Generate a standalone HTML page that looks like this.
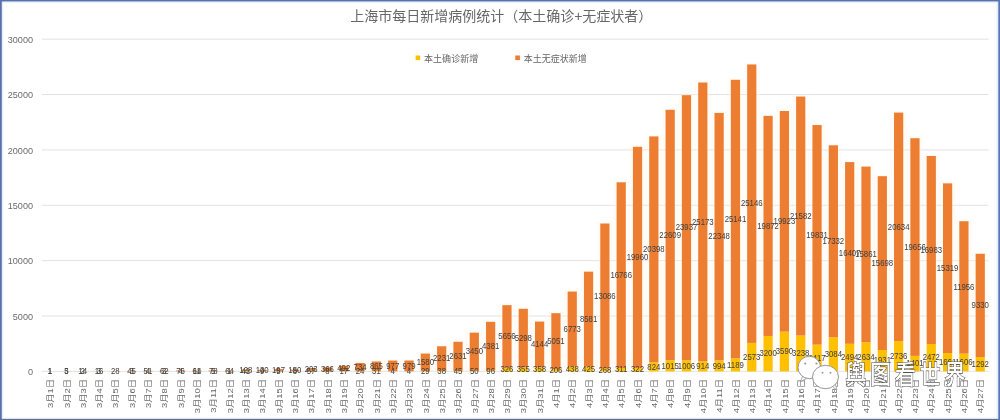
<!DOCTYPE html>
<html lang="zh"><head><meta charset="utf-8"><title>上海市每日新增病例统计</title>
<style>
html,body{margin:0;padding:0;background:#fff;}
body{width:1000px;height:420px;position:relative;overflow:hidden;font-family:"Liberation Sans","Noto Sans CJK SC",sans-serif;}
</style></head><body>
<svg width="1000" height="420" viewBox="0 0 1000 420" style="position:absolute;left:0;top:0;filter:blur(0.5px)">
<rect x="0" y="0" width="1000" height="420" fill="#ffffff"/>
<line x1="42" x2="988.6" y1="371.40" y2="371.40" stroke="#e2e2e2" stroke-width="1"/>
<text x="33" y="375.10" font-size="9.1" fill="#6b6b6b" text-anchor="end">0</text>
<line x1="42" x2="988.6" y1="316.03" y2="316.03" stroke="#e2e2e2" stroke-width="1"/>
<text x="33" y="319.73" font-size="9.1" fill="#6b6b6b" text-anchor="end">5000</text>
<line x1="42" x2="988.6" y1="260.66" y2="260.66" stroke="#e2e2e2" stroke-width="1"/>
<text x="33" y="264.36" font-size="9.1" fill="#6b6b6b" text-anchor="end">10000</text>
<line x1="42" x2="988.6" y1="205.29" y2="205.29" stroke="#e2e2e2" stroke-width="1"/>
<text x="33" y="208.99" font-size="9.1" fill="#6b6b6b" text-anchor="end">15000</text>
<line x1="42" x2="988.6" y1="149.92" y2="149.92" stroke="#e2e2e2" stroke-width="1"/>
<text x="33" y="153.62" font-size="9.1" fill="#6b6b6b" text-anchor="end">20000</text>
<line x1="42" x2="988.6" y1="94.55" y2="94.55" stroke="#e2e2e2" stroke-width="1"/>
<text x="33" y="98.25" font-size="9.1" fill="#6b6b6b" text-anchor="end">25000</text>
<line x1="42" x2="988.6" y1="39.18" y2="39.18" stroke="#e2e2e2" stroke-width="1"/>
<text x="33" y="42.88" font-size="9.1" fill="#6b6b6b" text-anchor="end">30000</text>
<rect x="351.92" y="361.51" width="16.32" height="9.89" fill="#fff4e2" fill-opacity="0.32"/>
<rect x="368.24" y="359.98" width="16.32" height="11.42" fill="#fff4e2" fill-opacity="0.32"/>
<rect x="384.56" y="359.04" width="16.32" height="12.36" fill="#fff4e2" fill-opacity="0.32"/>
<rect x="400.88" y="359.01" width="16.32" height="12.39" fill="#fff4e2" fill-opacity="0.32"/>
<rect x="417.20" y="352.08" width="16.32" height="19.32" fill="#fff4e2" fill-opacity="0.32"/>
<rect x="433.52" y="344.77" width="16.32" height="26.63" fill="#fff4e2" fill-opacity="0.32"/>
<rect x="449.84" y="340.27" width="16.32" height="31.13" fill="#fff4e2" fill-opacity="0.32"/>
<rect x="466.16" y="331.14" width="16.32" height="40.26" fill="#fff4e2" fill-opacity="0.32"/>
<rect x="482.48" y="320.32" width="16.32" height="51.08" fill="#fff4e2" fill-opacity="0.32"/>
<rect x="498.80" y="303.66" width="16.32" height="67.74" fill="#fff4e2" fill-opacity="0.32"/>
<rect x="515.12" y="307.30" width="16.32" height="64.10" fill="#fff4e2" fill-opacity="0.32"/>
<rect x="531.44" y="320.04" width="16.32" height="51.36" fill="#fff4e2" fill-opacity="0.32"/>
<rect x="547.76" y="311.68" width="16.32" height="59.72" fill="#fff4e2" fill-opacity="0.32"/>
<rect x="564.08" y="290.05" width="16.32" height="81.35" fill="#fff4e2" fill-opacity="0.32"/>
<rect x="580.40" y="270.17" width="16.32" height="101.23" fill="#fff4e2" fill-opacity="0.32"/>
<rect x="596.72" y="222.02" width="16.32" height="149.38" fill="#fff4e2" fill-opacity="0.32"/>
<rect x="613.04" y="180.79" width="16.32" height="190.61" fill="#fff4e2" fill-opacity="0.32"/>
<rect x="629.36" y="145.30" width="16.32" height="226.10" fill="#fff4e2" fill-opacity="0.32"/>
<rect x="645.68" y="134.89" width="16.32" height="236.51" fill="#fff4e2" fill-opacity="0.32"/>
<rect x="662.00" y="108.29" width="16.32" height="263.11" fill="#fff4e2" fill-opacity="0.32"/>
<rect x="678.32" y="93.68" width="16.32" height="277.72" fill="#fff4e2" fill-opacity="0.32"/>
<rect x="694.64" y="81.01" width="16.32" height="290.39" fill="#fff4e2" fill-opacity="0.32"/>
<rect x="710.96" y="111.41" width="16.32" height="259.99" fill="#fff4e2" fill-opacity="0.32"/>
<rect x="727.28" y="78.32" width="16.32" height="293.08" fill="#fff4e2" fill-opacity="0.32"/>
<rect x="743.60" y="62.94" width="16.32" height="308.46" fill="#fff4e2" fill-opacity="0.32"/>
<rect x="759.92" y="114.40" width="16.32" height="257.00" fill="#fff4e2" fill-opacity="0.32"/>
<rect x="776.24" y="109.52" width="16.32" height="261.88" fill="#fff4e2" fill-opacity="0.32"/>
<rect x="792.56" y="95.04" width="16.32" height="276.36" fill="#fff4e2" fill-opacity="0.32"/>
<rect x="808.88" y="123.53" width="16.32" height="247.87" fill="#fff4e2" fill-opacity="0.32"/>
<rect x="825.20" y="143.81" width="16.32" height="227.59" fill="#fff4e2" fill-opacity="0.32"/>
<rect x="841.52" y="160.59" width="16.32" height="210.81" fill="#fff4e2" fill-opacity="0.32"/>
<rect x="857.84" y="165.09" width="16.32" height="206.31" fill="#fff4e2" fill-opacity="0.32"/>
<rect x="874.16" y="174.68" width="16.32" height="196.72" fill="#fff4e2" fill-opacity="0.32"/>
<rect x="890.48" y="111.10" width="16.32" height="260.30" fill="#fff4e2" fill-opacity="0.32"/>
<rect x="906.80" y="136.71" width="16.32" height="234.69" fill="#fff4e2" fill-opacity="0.32"/>
<rect x="923.12" y="154.46" width="16.32" height="216.94" fill="#fff4e2" fill-opacity="0.32"/>
<rect x="939.44" y="181.86" width="16.32" height="189.54" fill="#fff4e2" fill-opacity="0.32"/>
<rect x="955.76" y="219.71" width="16.32" height="151.69" fill="#fff4e2" fill-opacity="0.32"/>
<rect x="972.08" y="252.27" width="16.32" height="119.13" fill="#fff4e2" fill-opacity="0.32"/>
<rect x="45.40" y="371.39" width="9.2" height="0.01" fill="#FFC000"/>
<rect x="45.40" y="371.38" width="9.2" height="0.01" fill="#ED7D31"/>
<rect x="61.72" y="371.37" width="9.2" height="0.03" fill="#FFC000"/>
<rect x="61.72" y="371.31" width="9.2" height="0.06" fill="#ED7D31"/>
<rect x="78.04" y="371.38" width="9.2" height="0.02" fill="#FFC000"/>
<rect x="78.04" y="371.22" width="9.2" height="0.16" fill="#ED7D31"/>
<rect x="94.36" y="371.37" width="9.2" height="0.03" fill="#FFC000"/>
<rect x="94.36" y="371.19" width="9.2" height="0.18" fill="#ED7D31"/>
<rect x="110.68" y="371.09" width="9.2" height="0.31" fill="#ED7D31"/>
<rect x="127.00" y="371.37" width="9.2" height="0.03" fill="#FFC000"/>
<rect x="127.00" y="370.87" width="9.2" height="0.50" fill="#ED7D31"/>
<rect x="143.32" y="371.36" width="9.2" height="0.04" fill="#FFC000"/>
<rect x="143.32" y="370.79" width="9.2" height="0.56" fill="#ED7D31"/>
<rect x="159.64" y="371.37" width="9.2" height="0.03" fill="#FFC000"/>
<rect x="159.64" y="370.68" width="9.2" height="0.69" fill="#ED7D31"/>
<rect x="175.96" y="371.36" width="9.2" height="0.04" fill="#FFC000"/>
<rect x="175.96" y="370.51" width="9.2" height="0.84" fill="#ED7D31"/>
<rect x="192.28" y="371.28" width="9.2" height="0.12" fill="#FFC000"/>
<rect x="192.28" y="370.57" width="9.2" height="0.71" fill="#ED7D31"/>
<rect x="208.60" y="371.34" width="9.2" height="0.06" fill="#FFC000"/>
<rect x="208.60" y="370.48" width="9.2" height="0.86" fill="#ED7D31"/>
<rect x="224.92" y="371.39" width="9.2" height="0.01" fill="#FFC000"/>
<rect x="224.92" y="370.68" width="9.2" height="0.71" fill="#ED7D31"/>
<rect x="241.24" y="370.95" width="9.2" height="0.45" fill="#FFC000"/>
<rect x="241.24" y="369.53" width="9.2" height="1.42" fill="#ED7D31"/>
<rect x="257.56" y="371.30" width="9.2" height="0.10" fill="#FFC000"/>
<rect x="257.56" y="369.86" width="9.2" height="1.44" fill="#ED7D31"/>
<rect x="273.88" y="371.34" width="9.2" height="0.06" fill="#FFC000"/>
<rect x="273.88" y="369.16" width="9.2" height="2.18" fill="#ED7D31"/>
<rect x="290.20" y="371.31" width="9.2" height="0.09" fill="#FFC000"/>
<rect x="290.20" y="369.65" width="9.2" height="1.66" fill="#ED7D31"/>
<rect x="306.52" y="370.77" width="9.2" height="0.63" fill="#FFC000"/>
<rect x="306.52" y="368.52" width="9.2" height="2.25" fill="#ED7D31"/>
<rect x="322.84" y="371.31" width="9.2" height="0.09" fill="#FFC000"/>
<rect x="322.84" y="367.26" width="9.2" height="4.05" fill="#ED7D31"/>
<rect x="339.16" y="371.21" width="9.2" height="0.19" fill="#FFC000"/>
<rect x="339.16" y="365.76" width="9.2" height="5.45" fill="#ED7D31"/>
<rect x="355.48" y="371.13" width="9.2" height="0.27" fill="#FFC000"/>
<rect x="355.48" y="363.01" width="9.2" height="8.13" fill="#ED7D31"/>
<rect x="371.80" y="371.06" width="9.2" height="0.34" fill="#FFC000"/>
<rect x="371.80" y="361.48" width="9.2" height="9.58" fill="#ED7D31"/>
<rect x="388.12" y="371.36" width="9.2" height="0.04" fill="#FFC000"/>
<rect x="388.12" y="360.54" width="9.2" height="10.82" fill="#ED7D31"/>
<rect x="404.44" y="371.36" width="9.2" height="0.04" fill="#FFC000"/>
<rect x="404.44" y="360.51" width="9.2" height="10.84" fill="#ED7D31"/>
<rect x="420.76" y="371.08" width="9.2" height="0.32" fill="#FFC000"/>
<rect x="420.76" y="353.58" width="9.2" height="17.50" fill="#ED7D31"/>
<rect x="437.08" y="370.98" width="9.2" height="0.42" fill="#FFC000"/>
<rect x="437.08" y="346.27" width="9.2" height="24.71" fill="#ED7D31"/>
<rect x="453.40" y="370.90" width="9.2" height="0.50" fill="#FFC000"/>
<rect x="453.40" y="341.77" width="9.2" height="29.14" fill="#ED7D31"/>
<rect x="469.72" y="370.85" width="9.2" height="0.55" fill="#FFC000"/>
<rect x="469.72" y="332.64" width="9.2" height="38.21" fill="#ED7D31"/>
<rect x="486.04" y="370.34" width="9.2" height="1.06" fill="#FFC000"/>
<rect x="486.04" y="321.82" width="9.2" height="48.52" fill="#ED7D31"/>
<rect x="502.36" y="367.79" width="9.2" height="3.61" fill="#FFC000"/>
<rect x="502.36" y="305.16" width="9.2" height="62.63" fill="#ED7D31"/>
<rect x="518.68" y="367.47" width="9.2" height="3.93" fill="#FFC000"/>
<rect x="518.68" y="308.80" width="9.2" height="58.67" fill="#ED7D31"/>
<rect x="535.00" y="367.44" width="9.2" height="3.96" fill="#FFC000"/>
<rect x="535.00" y="321.54" width="9.2" height="45.89" fill="#ED7D31"/>
<rect x="551.32" y="369.12" width="9.2" height="2.28" fill="#FFC000"/>
<rect x="551.32" y="313.18" width="9.2" height="55.93" fill="#ED7D31"/>
<rect x="567.64" y="366.55" width="9.2" height="4.85" fill="#FFC000"/>
<rect x="567.64" y="291.55" width="9.2" height="75.00" fill="#ED7D31"/>
<rect x="583.96" y="366.69" width="9.2" height="4.71" fill="#FFC000"/>
<rect x="583.96" y="271.67" width="9.2" height="95.03" fill="#ED7D31"/>
<rect x="600.28" y="368.43" width="9.2" height="2.97" fill="#FFC000"/>
<rect x="600.28" y="223.52" width="9.2" height="144.91" fill="#ED7D31"/>
<rect x="616.60" y="367.96" width="9.2" height="3.44" fill="#FFC000"/>
<rect x="616.60" y="182.29" width="9.2" height="185.67" fill="#ED7D31"/>
<rect x="632.92" y="367.83" width="9.2" height="3.57" fill="#FFC000"/>
<rect x="632.92" y="146.80" width="9.2" height="221.04" fill="#ED7D31"/>
<rect x="649.24" y="362.28" width="9.2" height="9.12" fill="#FFC000"/>
<rect x="649.24" y="136.39" width="9.2" height="225.89" fill="#ED7D31"/>
<rect x="665.56" y="360.16" width="9.2" height="11.24" fill="#FFC000"/>
<rect x="665.56" y="109.79" width="9.2" height="250.37" fill="#ED7D31"/>
<rect x="681.88" y="360.26" width="9.2" height="11.14" fill="#FFC000"/>
<rect x="681.88" y="95.18" width="9.2" height="265.08" fill="#ED7D31"/>
<rect x="698.20" y="361.28" width="9.2" height="10.12" fill="#FFC000"/>
<rect x="698.20" y="82.51" width="9.2" height="278.77" fill="#ED7D31"/>
<rect x="714.52" y="360.39" width="9.2" height="11.01" fill="#FFC000"/>
<rect x="714.52" y="112.91" width="9.2" height="247.48" fill="#ED7D31"/>
<rect x="730.84" y="358.23" width="9.2" height="13.17" fill="#FFC000"/>
<rect x="730.84" y="79.82" width="9.2" height="278.41" fill="#ED7D31"/>
<rect x="747.16" y="342.91" width="9.2" height="28.49" fill="#FFC000"/>
<rect x="747.16" y="64.44" width="9.2" height="278.47" fill="#ED7D31"/>
<rect x="763.48" y="335.96" width="9.2" height="35.44" fill="#FFC000"/>
<rect x="763.48" y="115.90" width="9.2" height="220.06" fill="#ED7D31"/>
<rect x="779.80" y="331.64" width="9.2" height="39.76" fill="#FFC000"/>
<rect x="779.80" y="111.02" width="9.2" height="220.63" fill="#ED7D31"/>
<rect x="796.12" y="335.54" width="9.2" height="35.86" fill="#FFC000"/>
<rect x="796.12" y="96.54" width="9.2" height="239.00" fill="#ED7D31"/>
<rect x="812.44" y="344.63" width="9.2" height="26.77" fill="#FFC000"/>
<rect x="812.44" y="125.03" width="9.2" height="219.61" fill="#ED7D31"/>
<rect x="828.76" y="337.25" width="9.2" height="34.15" fill="#FFC000"/>
<rect x="828.76" y="145.31" width="9.2" height="191.93" fill="#ED7D31"/>
<rect x="845.08" y="343.78" width="9.2" height="27.62" fill="#FFC000"/>
<rect x="845.08" y="162.09" width="9.2" height="181.69" fill="#ED7D31"/>
<rect x="861.40" y="342.23" width="9.2" height="29.17" fill="#FFC000"/>
<rect x="861.40" y="166.59" width="9.2" height="175.64" fill="#ED7D31"/>
<rect x="877.72" y="350.02" width="9.2" height="21.38" fill="#FFC000"/>
<rect x="877.72" y="176.18" width="9.2" height="173.84" fill="#ED7D31"/>
<rect x="894.04" y="341.10" width="9.2" height="30.30" fill="#FFC000"/>
<rect x="894.04" y="112.60" width="9.2" height="228.50" fill="#ED7D31"/>
<rect x="910.36" y="355.89" width="9.2" height="15.51" fill="#FFC000"/>
<rect x="910.36" y="138.21" width="9.2" height="217.67" fill="#ED7D31"/>
<rect x="926.68" y="344.03" width="9.2" height="27.37" fill="#FFC000"/>
<rect x="926.68" y="155.96" width="9.2" height="188.07" fill="#ED7D31"/>
<rect x="943.00" y="353.01" width="9.2" height="18.39" fill="#FFC000"/>
<rect x="943.00" y="183.36" width="9.2" height="169.64" fill="#ED7D31"/>
<rect x="959.32" y="353.62" width="9.2" height="17.78" fill="#FFC000"/>
<rect x="959.32" y="221.21" width="9.2" height="132.40" fill="#ED7D31"/>
<rect x="975.64" y="357.09" width="9.2" height="14.31" fill="#FFC000"/>
<rect x="975.64" y="253.77" width="9.2" height="103.32" fill="#ED7D31"/>
<text transform="translate(50.00,374.14) scale(0.885,1)" font-size="8.8" fill="#404040" text-anchor="middle">1</text>
<text transform="translate(50.00,374.13) scale(0.885,1)" font-size="8.8" fill="#404040" text-anchor="middle">1</text>
<text transform="translate(53.20,378.7) rotate(-90) scale(1,0.785)" font-size="9.45" fill="#666" text-anchor="end">3月1日</text>
<text transform="translate(66.32,374.13) scale(0.885,1)" font-size="8.8" fill="#404040" text-anchor="middle">3</text>
<text transform="translate(66.32,374.09) scale(0.885,1)" font-size="8.8" fill="#404040" text-anchor="middle">5</text>
<text transform="translate(69.52,378.7) rotate(-90) scale(1,0.785)" font-size="9.45" fill="#666" text-anchor="end">3月2日</text>
<text transform="translate(82.64,374.14) scale(0.885,1)" font-size="8.8" fill="#404040" text-anchor="middle">2</text>
<text transform="translate(82.64,374.05) scale(0.885,1)" font-size="8.8" fill="#404040" text-anchor="middle">14</text>
<text transform="translate(85.84,378.7) rotate(-90) scale(1,0.785)" font-size="9.45" fill="#666" text-anchor="end">3月3日</text>
<text transform="translate(98.96,374.13) scale(0.885,1)" font-size="8.8" fill="#404040" text-anchor="middle">3</text>
<text transform="translate(98.96,374.03) scale(0.885,1)" font-size="8.8" fill="#404040" text-anchor="middle">16</text>
<text transform="translate(102.16,378.7) rotate(-90) scale(1,0.785)" font-size="9.45" fill="#666" text-anchor="end">3月4日</text>
<text transform="translate(115.28,373.99) scale(0.885,1)" font-size="8.8" fill="#404040" text-anchor="middle">28</text>
<text transform="translate(118.48,378.7) rotate(-90) scale(1,0.785)" font-size="9.45" fill="#666" text-anchor="end">3月5日</text>
<text transform="translate(131.60,374.13) scale(0.885,1)" font-size="8.8" fill="#404040" text-anchor="middle">3</text>
<text transform="translate(131.60,373.87) scale(0.885,1)" font-size="8.8" fill="#404040" text-anchor="middle">45</text>
<text transform="translate(134.80,378.7) rotate(-90) scale(1,0.785)" font-size="9.45" fill="#666" text-anchor="end">3月6日</text>
<text transform="translate(147.92,374.13) scale(0.885,1)" font-size="8.8" fill="#404040" text-anchor="middle">4</text>
<text transform="translate(147.92,373.82) scale(0.885,1)" font-size="8.8" fill="#404040" text-anchor="middle">51</text>
<text transform="translate(151.12,378.7) rotate(-90) scale(1,0.785)" font-size="9.45" fill="#666" text-anchor="end">3月7日</text>
<text transform="translate(164.24,374.13) scale(0.885,1)" font-size="8.8" fill="#404040" text-anchor="middle">3</text>
<text transform="translate(164.24,373.77) scale(0.885,1)" font-size="8.8" fill="#404040" text-anchor="middle">62</text>
<text transform="translate(167.44,378.7) rotate(-90) scale(1,0.785)" font-size="9.45" fill="#666" text-anchor="end">3月8日</text>
<text transform="translate(180.56,374.13) scale(0.885,1)" font-size="8.8" fill="#404040" text-anchor="middle">4</text>
<text transform="translate(180.56,373.68) scale(0.885,1)" font-size="8.8" fill="#404040" text-anchor="middle">76</text>
<text transform="translate(183.76,378.7) rotate(-90) scale(1,0.785)" font-size="9.45" fill="#666" text-anchor="end">3月9日</text>
<text transform="translate(196.88,374.09) scale(0.885,1)" font-size="8.8" fill="#404040" text-anchor="middle">11</text>
<text transform="translate(196.88,373.67) scale(0.885,1)" font-size="8.8" fill="#404040" text-anchor="middle">64</text>
<text transform="translate(200.08,378.7) rotate(-90) scale(1,0.785)" font-size="9.45" fill="#666" text-anchor="end">3月10日</text>
<text transform="translate(213.20,374.12) scale(0.885,1)" font-size="8.8" fill="#404040" text-anchor="middle">5</text>
<text transform="translate(213.20,373.66) scale(0.885,1)" font-size="8.8" fill="#404040" text-anchor="middle">78</text>
<text transform="translate(216.40,378.7) rotate(-90) scale(1,0.785)" font-size="9.45" fill="#666" text-anchor="end">3月11日</text>
<text transform="translate(229.52,374.14) scale(0.885,1)" font-size="8.8" fill="#404040" text-anchor="middle">1</text>
<text transform="translate(229.52,373.78) scale(0.885,1)" font-size="8.8" fill="#404040" text-anchor="middle">64</text>
<text transform="translate(232.72,378.7) rotate(-90) scale(1,0.785)" font-size="9.45" fill="#666" text-anchor="end">3月12日</text>
<text transform="translate(245.84,373.92) scale(0.885,1)" font-size="8.8" fill="#404040" text-anchor="middle">41</text>
<text transform="translate(245.84,372.99) scale(0.885,1)" font-size="8.8" fill="#404040" text-anchor="middle">128</text>
<text transform="translate(249.04,378.7) rotate(-90) scale(1,0.785)" font-size="9.45" fill="#666" text-anchor="end">3月13日</text>
<text transform="translate(262.16,374.10) scale(0.885,1)" font-size="8.8" fill="#404040" text-anchor="middle">9</text>
<text transform="translate(262.16,373.33) scale(0.885,1)" font-size="8.8" fill="#404040" text-anchor="middle">130</text>
<text transform="translate(265.36,378.7) rotate(-90) scale(1,0.785)" font-size="9.45" fill="#666" text-anchor="end">3月14日</text>
<text transform="translate(278.48,374.12) scale(0.885,1)" font-size="8.8" fill="#404040" text-anchor="middle">5</text>
<text transform="translate(278.48,373.00) scale(0.885,1)" font-size="8.8" fill="#404040" text-anchor="middle">197</text>
<text transform="translate(281.68,378.7) rotate(-90) scale(1,0.785)" font-size="9.45" fill="#666" text-anchor="end">3月15日</text>
<text transform="translate(294.80,374.11) scale(0.885,1)" font-size="8.8" fill="#404040" text-anchor="middle">8</text>
<text transform="translate(294.80,373.23) scale(0.885,1)" font-size="8.8" fill="#404040" text-anchor="middle">150</text>
<text transform="translate(298.00,378.7) rotate(-90) scale(1,0.785)" font-size="9.45" fill="#666" text-anchor="end">3月16日</text>
<text transform="translate(311.12,373.83) scale(0.885,1)" font-size="8.8" fill="#404040" text-anchor="middle">57</text>
<text transform="translate(311.12,372.39) scale(0.885,1)" font-size="8.8" fill="#404040" text-anchor="middle">203</text>
<text transform="translate(314.32,378.7) rotate(-90) scale(1,0.785)" font-size="9.45" fill="#666" text-anchor="end">3月17日</text>
<text transform="translate(327.44,374.11) scale(0.885,1)" font-size="8.8" fill="#404040" text-anchor="middle">8</text>
<text transform="translate(327.44,372.03) scale(0.885,1)" font-size="8.8" fill="#404040" text-anchor="middle">366</text>
<text transform="translate(330.64,378.7) rotate(-90) scale(1,0.785)" font-size="9.45" fill="#666" text-anchor="end">3月18日</text>
<text transform="translate(343.76,374.06) scale(0.885,1)" font-size="8.8" fill="#404040" text-anchor="middle">17</text>
<text transform="translate(343.76,371.24) scale(0.885,1)" font-size="8.8" fill="#404040" text-anchor="middle">492</text>
<text transform="translate(346.96,378.7) rotate(-90) scale(1,0.785)" font-size="9.45" fill="#666" text-anchor="end">3月19日</text>
<text transform="translate(360.08,374.02) scale(0.885,1)" font-size="8.8" fill="#404040" text-anchor="middle">24</text>
<text transform="translate(360.08,369.82) scale(0.885,1)" font-size="8.8" fill="#404040" text-anchor="middle">734</text>
<text transform="translate(363.28,378.7) rotate(-90) scale(1,0.785)" font-size="9.45" fill="#666" text-anchor="end">3月20日</text>
<text transform="translate(376.40,373.98) scale(0.885,1)" font-size="8.8" fill="#404040" text-anchor="middle">31</text>
<text transform="translate(376.40,369.02) scale(0.885,1)" font-size="8.8" fill="#404040" text-anchor="middle">865</text>
<text transform="translate(379.60,378.7) rotate(-90) scale(1,0.785)" font-size="9.45" fill="#666" text-anchor="end">3月21日</text>
<text transform="translate(392.72,374.13) scale(0.885,1)" font-size="8.8" fill="#404040" text-anchor="middle">4</text>
<text transform="translate(392.72,368.70) scale(0.885,1)" font-size="8.8" fill="#404040" text-anchor="middle">977</text>
<text transform="translate(395.92,378.7) rotate(-90) scale(1,0.785)" font-size="9.45" fill="#666" text-anchor="end">3月22日</text>
<text transform="translate(409.04,374.13) scale(0.885,1)" font-size="8.8" fill="#404040" text-anchor="middle">4</text>
<text transform="translate(409.04,368.68) scale(0.885,1)" font-size="8.8" fill="#404040" text-anchor="middle">979</text>
<text transform="translate(412.24,378.7) rotate(-90) scale(1,0.785)" font-size="9.45" fill="#666" text-anchor="end">3月23日</text>
<text transform="translate(425.36,373.99) scale(0.885,1)" font-size="8.8" fill="#404040" text-anchor="middle">29</text>
<text transform="translate(425.36,365.08) scale(0.885,1)" font-size="8.8" fill="#404040" text-anchor="middle">1580</text>
<text transform="translate(428.56,378.7) rotate(-90) scale(1,0.785)" font-size="9.45" fill="#666" text-anchor="end">3月24日</text>
<text transform="translate(441.68,373.94) scale(0.885,1)" font-size="8.8" fill="#404040" text-anchor="middle">38</text>
<text transform="translate(441.68,361.38) scale(0.885,1)" font-size="8.8" fill="#404040" text-anchor="middle">2231</text>
<text transform="translate(444.88,378.7) rotate(-90) scale(1,0.785)" font-size="9.45" fill="#666" text-anchor="end">3月25日</text>
<text transform="translate(458.00,373.90) scale(0.885,1)" font-size="8.8" fill="#404040" text-anchor="middle">45</text>
<text transform="translate(458.00,359.08) scale(0.885,1)" font-size="8.8" fill="#404040" text-anchor="middle">2631</text>
<text transform="translate(461.20,378.7) rotate(-90) scale(1,0.785)" font-size="9.45" fill="#666" text-anchor="end">3月26日</text>
<text transform="translate(474.32,373.87) scale(0.885,1)" font-size="8.8" fill="#404040" text-anchor="middle">50</text>
<text transform="translate(474.32,354.49) scale(0.885,1)" font-size="8.8" fill="#404040" text-anchor="middle">3450</text>
<text transform="translate(477.52,378.7) rotate(-90) scale(1,0.785)" font-size="9.45" fill="#666" text-anchor="end">3月27日</text>
<text transform="translate(490.64,373.62) scale(0.885,1)" font-size="8.8" fill="#404040" text-anchor="middle">96</text>
<text transform="translate(490.64,348.83) scale(0.885,1)" font-size="8.8" fill="#404040" text-anchor="middle">4381</text>
<text transform="translate(493.84,378.7) rotate(-90) scale(1,0.785)" font-size="9.45" fill="#666" text-anchor="end">3月28日</text>
<text transform="translate(506.96,372.34) scale(0.885,1)" font-size="8.8" fill="#404040" text-anchor="middle">326</text>
<text transform="translate(506.96,339.22) scale(0.885,1)" font-size="8.8" fill="#404040" text-anchor="middle">5656</text>
<text transform="translate(510.16,378.7) rotate(-90) scale(1,0.785)" font-size="9.45" fill="#666" text-anchor="end">3月29日</text>
<text transform="translate(523.28,372.18) scale(0.885,1)" font-size="8.8" fill="#404040" text-anchor="middle">355</text>
<text transform="translate(523.28,340.88) scale(0.885,1)" font-size="8.8" fill="#404040" text-anchor="middle">5298</text>
<text transform="translate(526.48,378.7) rotate(-90) scale(1,0.785)" font-size="9.45" fill="#666" text-anchor="end">3月30日</text>
<text transform="translate(539.60,372.17) scale(0.885,1)" font-size="8.8" fill="#404040" text-anchor="middle">358</text>
<text transform="translate(539.60,347.24) scale(0.885,1)" font-size="8.8" fill="#404040" text-anchor="middle">4144</text>
<text transform="translate(542.80,378.7) rotate(-90) scale(1,0.785)" font-size="9.45" fill="#666" text-anchor="end">3月31日</text>
<text transform="translate(555.92,373.01) scale(0.885,1)" font-size="8.8" fill="#404040" text-anchor="middle">206</text>
<text transform="translate(555.92,343.90) scale(0.885,1)" font-size="8.8" fill="#404040" text-anchor="middle">5051</text>
<text transform="translate(559.12,378.7) rotate(-90) scale(1,0.785)" font-size="9.45" fill="#666" text-anchor="end">4月1日</text>
<text transform="translate(572.24,371.72) scale(0.885,1)" font-size="8.8" fill="#404040" text-anchor="middle">438</text>
<text transform="translate(572.24,331.80) scale(0.885,1)" font-size="8.8" fill="#404040" text-anchor="middle">6773</text>
<text transform="translate(575.44,378.7) rotate(-90) scale(1,0.785)" font-size="9.45" fill="#666" text-anchor="end">4月2日</text>
<text transform="translate(588.56,371.80) scale(0.885,1)" font-size="8.8" fill="#404040" text-anchor="middle">425</text>
<text transform="translate(588.56,321.93) scale(0.885,1)" font-size="8.8" fill="#404040" text-anchor="middle">8581</text>
<text transform="translate(591.76,378.7) rotate(-90) scale(1,0.785)" font-size="9.45" fill="#666" text-anchor="end">4月3日</text>
<text transform="translate(604.88,372.67) scale(0.885,1)" font-size="8.8" fill="#404040" text-anchor="middle">268</text>
<text transform="translate(604.88,298.72) scale(0.885,1)" font-size="8.8" fill="#404040" text-anchor="middle">13086</text>
<text transform="translate(608.08,378.7) rotate(-90) scale(1,0.785)" font-size="9.45" fill="#666" text-anchor="end">4月4日</text>
<text transform="translate(621.20,372.43) scale(0.885,1)" font-size="8.8" fill="#404040" text-anchor="middle">311</text>
<text transform="translate(621.20,277.87) scale(0.885,1)" font-size="8.8" fill="#404040" text-anchor="middle">16766</text>
<text transform="translate(624.40,378.7) rotate(-90) scale(1,0.785)" font-size="9.45" fill="#666" text-anchor="end">4月5日</text>
<text transform="translate(637.52,372.37) scale(0.885,1)" font-size="8.8" fill="#404040" text-anchor="middle">322</text>
<text transform="translate(637.52,260.07) scale(0.885,1)" font-size="8.8" fill="#404040" text-anchor="middle">19960</text>
<text transform="translate(640.72,378.7) rotate(-90) scale(1,0.785)" font-size="9.45" fill="#666" text-anchor="end">4月6日</text>
<text transform="translate(653.84,369.59) scale(0.885,1)" font-size="8.8" fill="#404040" text-anchor="middle">824</text>
<text transform="translate(653.84,252.08) scale(0.885,1)" font-size="8.8" fill="#404040" text-anchor="middle">20398</text>
<text transform="translate(657.04,378.7) rotate(-90) scale(1,0.785)" font-size="9.45" fill="#666" text-anchor="end">4月7日</text>
<text transform="translate(670.16,368.53) scale(0.885,1)" font-size="8.8" fill="#404040" text-anchor="middle">1015</text>
<text transform="translate(670.16,237.72) scale(0.885,1)" font-size="8.8" fill="#404040" text-anchor="middle">22609</text>
<text transform="translate(673.36,378.7) rotate(-90) scale(1,0.785)" font-size="9.45" fill="#666" text-anchor="end">4月8日</text>
<text transform="translate(686.48,368.58) scale(0.885,1)" font-size="8.8" fill="#404040" text-anchor="middle">1006</text>
<text transform="translate(686.48,230.47) scale(0.885,1)" font-size="8.8" fill="#404040" text-anchor="middle">23937</text>
<text transform="translate(689.68,378.7) rotate(-90) scale(1,0.785)" font-size="9.45" fill="#666" text-anchor="end">4月9日</text>
<text transform="translate(702.80,369.09) scale(0.885,1)" font-size="8.8" fill="#404040" text-anchor="middle">914</text>
<text transform="translate(702.80,224.65) scale(0.885,1)" font-size="8.8" fill="#404040" text-anchor="middle">25173</text>
<text transform="translate(706.00,378.7) rotate(-90) scale(1,0.785)" font-size="9.45" fill="#666" text-anchor="end">4月10日</text>
<text transform="translate(719.12,368.65) scale(0.885,1)" font-size="8.8" fill="#404040" text-anchor="middle">994</text>
<text transform="translate(719.12,239.40) scale(0.885,1)" font-size="8.8" fill="#404040" text-anchor="middle">22348</text>
<text transform="translate(722.32,378.7) rotate(-90) scale(1,0.785)" font-size="9.45" fill="#666" text-anchor="end">4月11日</text>
<text transform="translate(735.44,367.57) scale(0.885,1)" font-size="8.8" fill="#404040" text-anchor="middle">1189</text>
<text transform="translate(735.44,221.78) scale(0.885,1)" font-size="8.8" fill="#404040" text-anchor="middle">25141</text>
<text transform="translate(738.64,378.7) rotate(-90) scale(1,0.785)" font-size="9.45" fill="#666" text-anchor="end">4月12日</text>
<text transform="translate(751.76,359.90) scale(0.885,1)" font-size="8.8" fill="#404040" text-anchor="middle">2573</text>
<text transform="translate(751.76,206.42) scale(0.885,1)" font-size="8.8" fill="#404040" text-anchor="middle">25146</text>
<text transform="translate(754.96,378.7) rotate(-90) scale(1,0.785)" font-size="9.45" fill="#666" text-anchor="end">4月13日</text>
<text transform="translate(768.08,356.43) scale(0.885,1)" font-size="8.8" fill="#404040" text-anchor="middle">3200</text>
<text transform="translate(768.08,228.68) scale(0.885,1)" font-size="8.8" fill="#404040" text-anchor="middle">19872</text>
<text transform="translate(771.28,378.7) rotate(-90) scale(1,0.785)" font-size="9.45" fill="#666" text-anchor="end">4月14日</text>
<text transform="translate(784.40,354.27) scale(0.885,1)" font-size="8.8" fill="#404040" text-anchor="middle">3590</text>
<text transform="translate(784.40,224.08) scale(0.885,1)" font-size="8.8" fill="#404040" text-anchor="middle">19923</text>
<text transform="translate(787.60,378.7) rotate(-90) scale(1,0.785)" font-size="9.45" fill="#666" text-anchor="end">4月15日</text>
<text transform="translate(800.72,356.22) scale(0.885,1)" font-size="8.8" fill="#404040" text-anchor="middle">3238</text>
<text transform="translate(800.72,218.79) scale(0.885,1)" font-size="8.8" fill="#404040" text-anchor="middle">21582</text>
<text transform="translate(803.92,378.7) rotate(-90) scale(1,0.785)" font-size="9.45" fill="#666" text-anchor="end">4月16日</text>
<text transform="translate(817.04,360.77) scale(0.885,1)" font-size="8.8" fill="#404040" text-anchor="middle">2417</text>
<text transform="translate(817.04,237.58) scale(0.885,1)" font-size="8.8" fill="#404040" text-anchor="middle">19831</text>
<text transform="translate(820.24,378.7) rotate(-90) scale(1,0.785)" font-size="9.45" fill="#666" text-anchor="end">4月17日</text>
<text transform="translate(833.36,357.07) scale(0.885,1)" font-size="8.8" fill="#404040" text-anchor="middle">3084</text>
<text transform="translate(833.36,244.03) scale(0.885,1)" font-size="8.8" fill="#404040" text-anchor="middle">17332</text>
<text transform="translate(836.56,378.7) rotate(-90) scale(1,0.785)" font-size="9.45" fill="#666" text-anchor="end">4月18日</text>
<text transform="translate(849.68,360.34) scale(0.885,1)" font-size="8.8" fill="#404040" text-anchor="middle">2494</text>
<text transform="translate(849.68,255.69) scale(0.885,1)" font-size="8.8" fill="#404040" text-anchor="middle">16407</text>
<text transform="translate(852.88,378.7) rotate(-90) scale(1,0.785)" font-size="9.45" fill="#666" text-anchor="end">4月19日</text>
<text transform="translate(866.00,359.57) scale(0.885,1)" font-size="8.8" fill="#404040" text-anchor="middle">2634</text>
<text transform="translate(866.00,257.16) scale(0.885,1)" font-size="8.8" fill="#404040" text-anchor="middle">15861</text>
<text transform="translate(869.20,378.7) rotate(-90) scale(1,0.785)" font-size="9.45" fill="#666" text-anchor="end">4月20日</text>
<text transform="translate(882.32,363.46) scale(0.885,1)" font-size="8.8" fill="#404040" text-anchor="middle">1931</text>
<text transform="translate(882.32,265.85) scale(0.885,1)" font-size="8.8" fill="#404040" text-anchor="middle">15698</text>
<text transform="translate(885.52,378.7) rotate(-90) scale(1,0.785)" font-size="9.45" fill="#666" text-anchor="end">4月21日</text>
<text transform="translate(898.64,359.00) scale(0.885,1)" font-size="8.8" fill="#404040" text-anchor="middle">2736</text>
<text transform="translate(898.64,229.60) scale(0.885,1)" font-size="8.8" fill="#404040" text-anchor="middle">20634</text>
<text transform="translate(901.84,378.7) rotate(-90) scale(1,0.785)" font-size="9.45" fill="#666" text-anchor="end">4月22日</text>
<text transform="translate(914.96,366.39) scale(0.885,1)" font-size="8.8" fill="#404040" text-anchor="middle">1401</text>
<text transform="translate(914.96,249.80) scale(0.885,1)" font-size="8.8" fill="#404040" text-anchor="middle">19656</text>
<text transform="translate(918.16,378.7) rotate(-90) scale(1,0.785)" font-size="9.45" fill="#666" text-anchor="end">4月23日</text>
<text transform="translate(931.28,360.46) scale(0.885,1)" font-size="8.8" fill="#404040" text-anchor="middle">2472</text>
<text transform="translate(931.28,252.74) scale(0.885,1)" font-size="8.8" fill="#404040" text-anchor="middle">16983</text>
<text transform="translate(934.48,378.7) rotate(-90) scale(1,0.785)" font-size="9.45" fill="#666" text-anchor="end">4月24日</text>
<text transform="translate(947.60,364.95) scale(0.885,1)" font-size="8.8" fill="#404040" text-anchor="middle">1661</text>
<text transform="translate(947.60,270.93) scale(0.885,1)" font-size="8.8" fill="#404040" text-anchor="middle">15319</text>
<text transform="translate(950.80,378.7) rotate(-90) scale(1,0.785)" font-size="9.45" fill="#666" text-anchor="end">4月25日</text>
<text transform="translate(963.92,365.26) scale(0.885,1)" font-size="8.8" fill="#404040" text-anchor="middle">1606</text>
<text transform="translate(963.92,290.16) scale(0.885,1)" font-size="8.8" fill="#404040" text-anchor="middle">11956</text>
<text transform="translate(967.12,378.7) rotate(-90) scale(1,0.785)" font-size="9.45" fill="#666" text-anchor="end">4月26日</text>
<text transform="translate(980.24,367.00) scale(0.885,1)" font-size="8.8" fill="#404040" text-anchor="middle">1292</text>
<text transform="translate(980.24,308.18) scale(0.885,1)" font-size="8.8" fill="#404040" text-anchor="middle">9330</text>
<text transform="translate(983.44,378.7) rotate(-90) scale(1,0.785)" font-size="9.45" fill="#666" text-anchor="end">4月27日</text>
<text x="350.2" y="21.4" font-size="14" fill="#676767">上海市每日新增病例统计（本土确诊+无症状者）</text>
<rect x="415.6" y="55.5" width="4.6" height="4.6" fill="#FFC000"/>
<text x="424" y="61.8" font-size="9.05" fill="#666">本土确诊新增</text>
<rect x="515.3" y="55.5" width="4.6" height="4.6" fill="#ED7D31"/>
<text x="523.8" y="61.8" font-size="9.0" fill="#666">本土无症状新增</text>
<g id="wm">
<g fill="#ffffff" stroke="#8a8a8a" stroke-width="0.9"><ellipse cx="809.3" cy="367.5" rx="11.3" ry="11.2"/><ellipse cx="825.5" cy="377" rx="13" ry="11.7"/></g>
<path d="M802.5 376.5 L800.5 381.5 L806.5 378.6 Z" fill="#ffffff" stroke="#8a8a8a" stroke-width="0.7"/>
<path d="M832.5 386.5 L836.8 390 L835.5 384.5 Z" fill="#ffffff" stroke="#8a8a8a" stroke-width="0.7"/>
<g fill="#9a9a9a"><circle cx="805.3" cy="363.5" r="1.1"/><circle cx="816.5" cy="363.5" r="1.1"/><circle cx="822.5" cy="372.8" r="1"/><circle cx="830.5" cy="372.8" r="1"/></g>
<text transform="translate(845.4,384.3) scale(0.87,1.08)" font-size="24" letter-spacing="4.5" fill="#ffffff" stroke="#505050" stroke-width="1.1" style="paint-order:stroke fill" font-weight="500">舆图看世界</text>
</g>
</svg>
<svg width="1000" height="420" viewBox="0 0 1000 420" style="position:absolute;left:0;top:0;pointer-events:none">
<rect x="0" y="0" width="3.2" height="420" fill="#cfe0f7" opacity="0.55"/>
<rect x="0" y="0" width="1000" height="2.8" fill="#cfe0f7" opacity="0.55"/>
<rect x="996.6" y="0" width="3.4" height="420" fill="#cfe0f7" opacity="0.55"/>
<rect x="0" y="417.6" width="1000" height="2.4" fill="#d8ebf8" opacity="0.55"/>
<rect x="0" y="0" width="1000" height="1.4" fill="#5570ad"/>
<rect x="0" y="418.9" width="1000" height="1.1" fill="#5c6d96"/>
<rect x="0" y="0" width="1.75" height="420" fill="#5a6fae"/>
<rect x="998.3" y="0" width="1.7" height="420" fill="#5777bd"/>
</svg>
</body></html>
